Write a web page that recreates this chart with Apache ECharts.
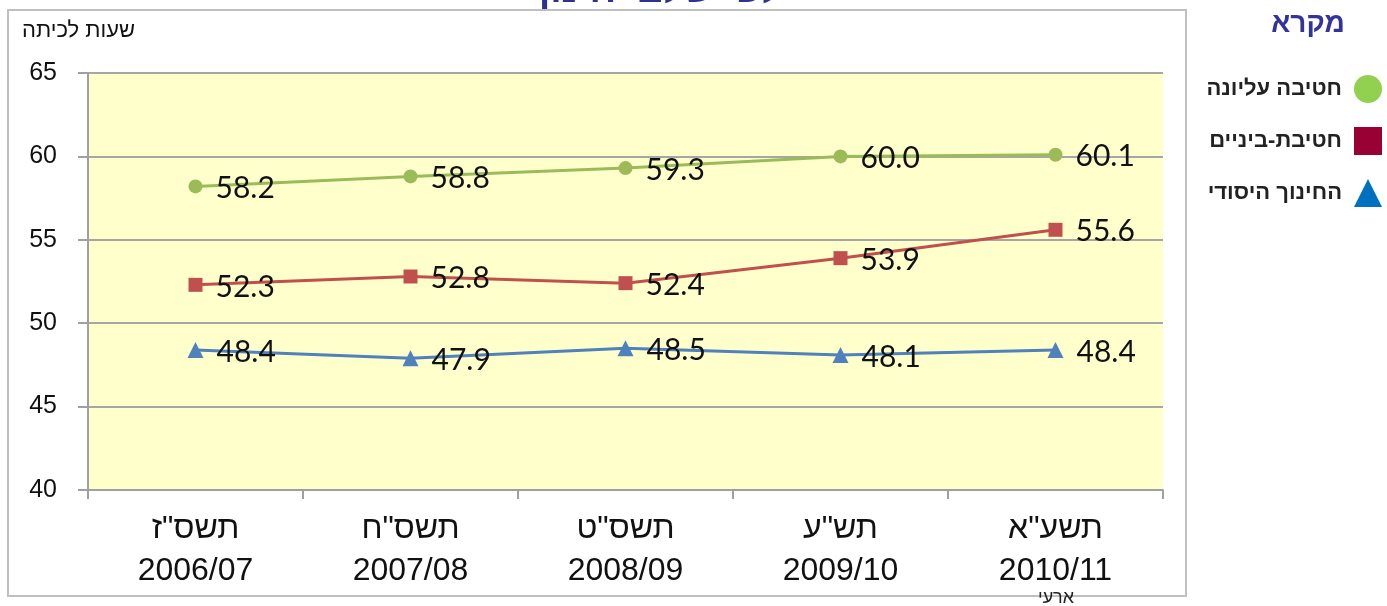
<!DOCTYPE html>
<html>
<head>
<meta charset="utf-8">
<script src="https://cdn.jsdelivr.net/npm/echarts@6/dist/echarts.min.js"></script>
<style>
  html, body { margin: 0; padding: 0; background: #ffffff; }
  #chart { width: 1387px; height: 606px; }
</style>
</head>
<body>
<div id="chart"></div>
<script>
// שנות לימוד
const years = ['תשס"ז\n2006/07', 'תשס"ח\n2007/08', 'תשס"ט\n2008/09', 'תש"ע\n2009/10', 'תשע"א\n2010/11'];
// שעות לכיתה לפי שלב חינוך
const upperSecondary = [58.2, 58.8, 59.3, 60.0, 60.1];
const middleSchool = [52.3, 52.8, 52.4, 53.9, 55.6];
const primary = [48.4, 47.9, 48.5, 48.1, 48.4];
const seriesNames = ['חטיבה עליונה', 'חטיבת-ביניים', 'החינוך היסודי'];
const yTicks = [40, 45, 50, 55, 60, 65];

const labelFont = 'Lato, "Liberation Sans", sans-serif';
const axisFont = '"Liberation Sans", Arial, sans-serif';

function makeLine(name, data, color, symbol, size) {
  return {
    name: name,
    type: 'line',
    data: data,
    symbol: symbol,
    symbolSize: size,
    lineStyle: { color: color, width: 3 },
    itemStyle: { color: color },
    label: {
      show: true,
      position: 'right',
      distance: 13,
      offset: [0, 2],
      color: '#111',
      fontFamily: labelFont,
      fontSize: 30,
      formatter: function (p) { return p.value.toFixed(1); }
    },
    emphasis: { disabled: true },
    z: 3
  };
}

const myChart = echarts.init(document.getElementById('chart'));
const option = {
  animation: false,
  graphic: [
    {
      type: 'rect',
      shape: { x: 8, y: 10, width: 1178, height: 586 },
      style: { fill: 'none', stroke: '#BFBFBF', lineWidth: 2 },
      z: -1
    },
    {
      type: 'text',
      x: 655, y: -27,
      style: {
        text: 'לפי שלבי חינוך',
        font: 'bold 38px "Liberation Sans", Arial, sans-serif',
        fill: '#2E3192',
        textAlign: 'center',
        textVerticalAlign: 'top'
      }
    },
    {
      type: 'text',
      x: 1308, y: 24,
      style: {
        text: 'מקרא',
        font: 'bold 28px "Liberation Sans", Arial, sans-serif',
        fill: '#333399',
        textAlign: 'center',
        textVerticalAlign: 'middle'
      }
    },
    {
      type: 'text',
      x: 1056, y: 598,
      style: {
        text: 'ארעי',
        font: '18px "Liberation Sans", Arial, sans-serif',
        fill: '#222',
        textAlign: 'center',
        textVerticalAlign: 'middle'
      }
    }
  ],
  legend: {
    orient: 'vertical',
    right: 0,
    top: 70,
    align: 'right',
    itemWidth: 28,
    itemHeight: 28,
    itemGap: 24,
    textStyle: {
      fontFamily: axisFont,
      fontSize: 22,
      fontWeight: 'bold',
      color: '#222',
      padding: [0, 7, 0, 0]
    },
    data: [
      { name: seriesNames[0], icon: 'circle', itemStyle: { color: '#92D050', borderWidth: 0 } },
      { name: seriesNames[1], icon: 'rect', itemStyle: { color: '#990033', borderWidth: 0 } },
      { name: seriesNames[2], icon: 'triangle', itemStyle: { color: '#0070C0', borderWidth: 0 } }
    ],
    selectedMode: false
  },
  grid: {
    left: 88,
    right: 224,
    top: 73,
    bottom: 116,
    show: true,
    backgroundColor: '#FFFFCC',
    borderWidth: 0
  },
  xAxis: {
    type: 'category',
    data: years,
    boundaryGap: true,
    axisLine: { show: true, lineStyle: { color: '#A0A0A0', width: 2 } },
    axisTick: { show: true, alignWithLabel: false, length: 9, lineStyle: { color: '#A0A0A0', width: 2 } },
    axisLabel: {
      margin: 18,
      fontFamily: axisFont,
      fontSize: 32,
      lineHeight: 42,
      color: '#111'
    },
    splitLine: { show: false }
  },
  yAxis: {
    type: 'value',
    min: yTicks[0],
    max: yTicks[yTicks.length - 1],
    interval: 5,
    name: 'שעות לכיתה',
    nameLocation: 'end',
    nameGap: 31,
    nameTextStyle: {
      fontFamily: axisFont,
      fontSize: 22,
      color: '#111',
      align: 'left',
      padding: [0, 0, 0, -66]
    },
    axisLine: { show: true, lineStyle: { color: '#A0A0A0', width: 2 } },
    axisTick: { show: true, inside: false, length: 10, lineStyle: { color: '#A0A0A0', width: 2 } },
    axisLabel: {
      margin: 31,
      fontFamily: axisFont,
      fontSize: 25,
      color: '#111'
    },
    splitLine: { show: true, lineStyle: { color: '#A6A6A6', width: 2 } }
  },
  series: [
    makeLine(seriesNames[0], upperSecondary, '#9BBB59', 'circle', 14),
    makeLine(seriesNames[1], middleSchool, '#C0504D', 'rect', 14),
    makeLine(seriesNames[2], primary, '#4F81BD', 'triangle', 16)
  ]
};
myChart.setOption(option);
</script>
</body>
</html>
